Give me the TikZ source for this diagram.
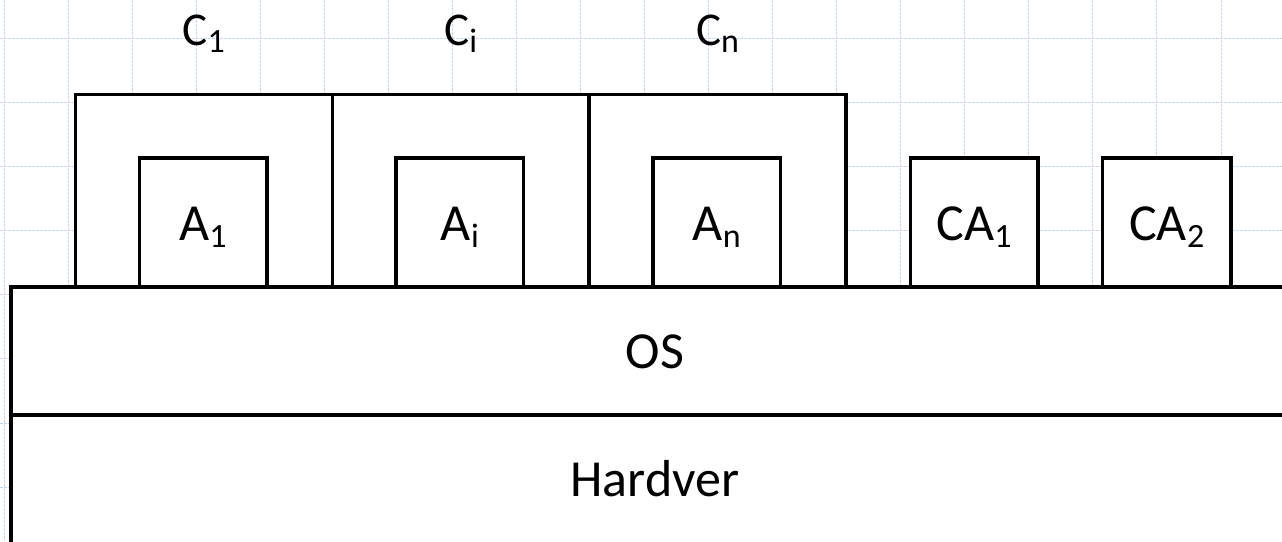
\documentclass[tikz,border=0pt]{standalone}
\usepackage{fontspec}
\setmainfont{Carlito}
\definecolor{gridblue}{HTML}{C8D5F3}
% lowered, smaller index text
\newcommand\lowsub[2]{\raisebox{-#1}{\fontsize{34pt}{34pt}\selectfont #2}}
\begin{document}
\begin{tikzpicture}[x=1pt, y=-1pt,
  gridline/.style={draw=gridblue, line width=0.9pt, dash pattern=on 2.5pt off 1.5pt},
  layerbox/.style={draw=black, fill=white, line width=3.4pt, rectangle,
    inner sep=0pt, outer sep=0pt, anchor=north west},
  boxlab/.style={anchor=base, inner sep=0pt, font=\fontsize{52pt}{52pt}\selectfont},
  toplab/.style={anchor=base, inner sep=0pt, font=\fontsize{47pt}{47pt}\selectfont}]
\useasboundingbox (0,0) rectangle (1282,541);
\clip (0,0) rectangle (1282,541);
\fill[white] (0,0) rectangle (1282,541);

% background grid
\foreach \k in {0,...,19}
  \draw[gridline] ({4+64.05*\k},0) -- ({4+64.05*\k},541);
\foreach \k in {0,...,7}
  \draw[gridline] (0,{38.4+64.1*\k}) -- (1282,{38.4+64.1*\k});

% containers
\node[layerbox, minimum width=256.9pt, minimum height=192.3pt] (c1) at (75.3,94.7) {};
\node[layerbox, minimum width=256.9pt, minimum height=192.3pt] (ci) at (332.2,94.7) {};
\node[layerbox, minimum width=256.9pt, minimum height=192.3pt] (cn) at (589.1,94.7) {};

% applications
\node[layerbox, minimum width=127.6pt, minimum height=129pt] (a1) at (139.2,158) {};
\node[layerbox, minimum width=127.6pt, minimum height=129pt] (ai) at (396.1,158) {};
\node[layerbox, minimum width=127.6pt, minimum height=129pt] (an) at (653,158) {};
\node[layerbox, minimum width=127.5pt, minimum height=129pt] (ca1) at (910.3,158) {};
\node[layerbox, minimum width=128.5pt, minimum height=129pt] (ca2) at (1102.5,158) {};

% layers (hardware layer runs past the lower edge)
\node[layerbox, minimum width=1300pt, minimum height=128pt] (os) at (11,287) {};
\node[layerbox, minimum width=1300pt, minimum height=160pt] (hw) at (11,415) {};

% labels
\node[toplab] (lc1) at ([yshift=49.7pt]c1.north) {C\lowsub{7.5pt}{1}};
\node[toplab] (lci) at ([yshift=49.7pt]ci.north) {C\lowsub{7.5pt}{i}};
\node[toplab] (lcn) at ([yshift=49.7pt]cn.north) {C\lowsub{7.5pt}{n}};
\node[boxlab] (la1) at ([yshift=46.2pt]a1.south) {A\lowsub{6.5pt}{1}};
\node[boxlab] (lai) at ([yshift=46.2pt]ai.south) {A\lowsub{6.5pt}{i}};
\node[boxlab] (lan) at ([yshift=46.2pt]an.south) {A\lowsub{6.5pt}{n}};
\node[boxlab] (lca1) at ([yshift=46.2pt]ca1.south) {CA\lowsub{6.5pt}{1}};
\node[boxlab] (lca2) at ([yshift=46.2pt]ca2.south) {CA\lowsub{6.5pt}{2}};
\node[boxlab] (los) at (655,368.8) {OS};
\node[boxlab] (lhw) at (655,496.7) {Hardver};
\end{tikzpicture}
\end{document}
